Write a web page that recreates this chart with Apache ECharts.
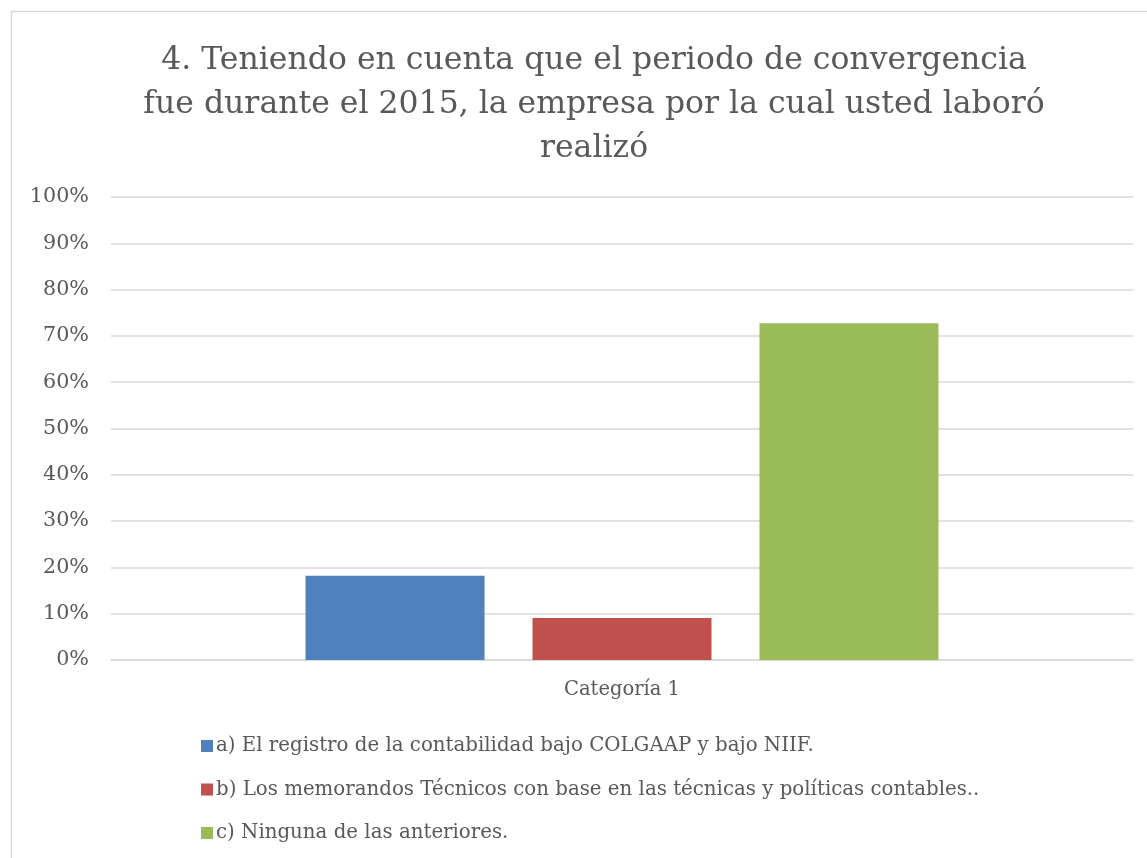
<!DOCTYPE html>
<html>
<head>
<meta charset="utf-8">
<script src="https://cdn.jsdelivr.net/npm/echarts@6/dist/echarts.min.js"></script>
<style>
  html, body { margin: 0; padding: 0; background: #fff; }
  #chart { width: 1147px; height: 858px; }
</style>
</head>
<body>
<div id="chart"></div>
<script>
const titleLines = [
  '4. Teniendo en cuenta que el periodo de convergencia',
  'fue durante el 2015, la empresa por la cual usted laboró',
  'realizó'
]
const categories = ['Categoría 1']
const seriesNames = [
  'a) El registro de la contabilidad bajo COLGAAP y bajo NIIF.',
  'b) Los memorandos Técnicos con base en las técnicas y políticas contables..',
  'c) Ninguna de las anteriores.'
]
const seriesColors = ['#4F81BD', '#C0504D', '#9BBB59']
const seriesValues = [[18.18], [9.09], [72.73]]
const yTicks = [0, 10, 20, 30, 40, 50, 60, 70, 80, 90, 100]

const fontFamily = 'DejaVu Serif'
const textColor = '#595959'

const chart = echarts.init(document.getElementById('chart'))
chart.setOption({
  animation: false,
  backgroundColor: '#fff',
  // 外框
  graphic: [{
    type: 'rect',
    shape: { x: 11.5, y: 11.5, width: 1300, height: 1000 },
    style: { fill: 'none', stroke: '#D9D9D9', lineWidth: 1.5 },
    silent: true
  }],
  title: {
    text: titleLines.join('\n'),
    left: 589,
    top: 34,
    textAlign: 'center',
    textStyle: {
      fontFamily: fontFamily,
      fontWeight: 'normal',
      fontSize: 31.5,
      lineHeight: 44,
      color: textColor
    }
  },
  grid: {
    left: 111,
    right: 14,
    top: 197,
    bottom: 198
  },
  legend: {
    orient: 'vertical',
    left: 196,
    top: 731,
    itemWidth: 12,
    itemHeight: 12,
    itemGap: 23.5,
    icon: 'rect',
    textStyle: {
      fontFamily: fontFamily,
      fontSize: 19.8,
      color: textColor,
      padding: [0, 0, 0, -2]
    }
  },
  xAxis: {
    type: 'category',
    data: categories,
    axisLine: { lineStyle: { color: '#D9D9D9', width: 1.5 } },
    axisTick: { show: false },
    axisLabel: {
      margin: 20,
      fontFamily: fontFamily,
      fontSize: 19.5,
      color: textColor
    }
  },
  yAxis: {
    type: 'value',
    min: yTicks[0],
    max: yTicks[yTicks.length - 1],
    interval: yTicks[1] - yTicks[0],
    axisLine: { show: false },
    axisTick: { show: false },
    splitLine: { lineStyle: { color: '#D9D9D9', width: 1.5 } },
    axisLabel: {
      margin: 22,
      fontFamily: fontFamily,
      fontSize: 20.7,
      color: textColor,
      formatter: v => v + '%'
    }
  },
  series: seriesNames.map((name, i) => ({
    name: name,
    type: 'bar',
    data: seriesValues[i],
    barWidth: 179,
    barGap: '26.8%',
    itemStyle: { color: seriesColors[i] }
  }))
})
</script>
</body>
</html>
